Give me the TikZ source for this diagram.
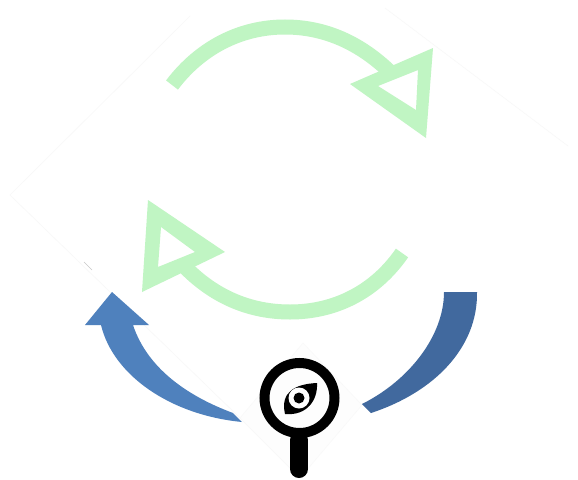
\documentclass[tikz,border=0pt]{standalone}
\definecolor{softgreen}{HTML}{C0F5C3}
\definecolor{blueleft}{HTML}{4F81BD}
\definecolor{blueright}{HTML}{41699E}
\definecolor{faintedge}{HTML}{F8F8F8}
\definecolor{faintfill}{HTML}{FDFDFD}
\tikzset{
  loopline/.style={draw=softgreen,line width=15pt,line cap=butt},
  looptip/.style={fill=softgreen,even odd rule},
  lens/.style={draw=black,line width=10pt},
  handlebar/.style={draw=black,line width=18pt,line cap=round},
  faintline/.style={draw=faintedge,line width=0.6pt}
}
\begin{document}
\begin{tikzpicture}[x=1pt,y=-1pt]
\useasboundingbox (0,0) rectangle (578,479);
\fill[white] (0,0) rectangle (578,479);
% faint white panels of the pasted picture
\path[faintline] (190,16) -- (10,195) -- (240,418);
\path[faintline] (385,8) -- (568,146);
\path[draw=faintedge,fill=faintfill,line width=0.4pt] (303,343) -- (362,405) -- (300,478) -- (240,418) -- cycle;
\draw[draw=black!22,line width=0.6pt] (84,262) -- (92,270);
% upper green arrow
\draw[loopline] (172,85) .. controls (200,48) and (240,27) .. (285,27) .. controls (325,27) and (360,43) .. (390,72);
\path[looptip] (350,84) -- (433,48) -- (426,138) -- cycle (378,86) -- (416,110) -- (418,70) -- cycle;
% lower green arrow
\draw[loopline] (402,253) .. controls (375,292) and (335,312) .. (290,312) .. controls (250,312) and (215,297) .. (186,268);
\path[looptip] (148,200) -- (225,252) -- (142,292) -- cycle (161,227) -- (158,267) -- (195,252) -- cycle;
% blue arrows
\fill[blueleft] (112,292) -- (149,325) -- (133,325) .. controls (148,370) and (190,397) .. (233,413) -- (242,422) .. controls (170,415) and (113,375) .. (101,325) -- (85,325) -- cycle;
\fill[blueright] (444,292) -- (477,292) .. controls (478,347) and (435,392) .. (371,413) -- (362,404) .. controls (410,380) and (444,335) .. (444,292) -- cycle;
% magnifier
\draw[handlebar] (299,440) -- (299,469);
\draw[lens] (299.5,398) circle[radius=35];
\fill[black] (285,414) .. controls (280,392) and (295,384) .. (317,383) .. controls (318,400) and (307,416) .. (285,414) -- cycle;
\fill[white] (299,398) circle[radius=10.5];
\fill[black] (299,398) circle[radius=5.5];
\end{tikzpicture}
\end{document}
